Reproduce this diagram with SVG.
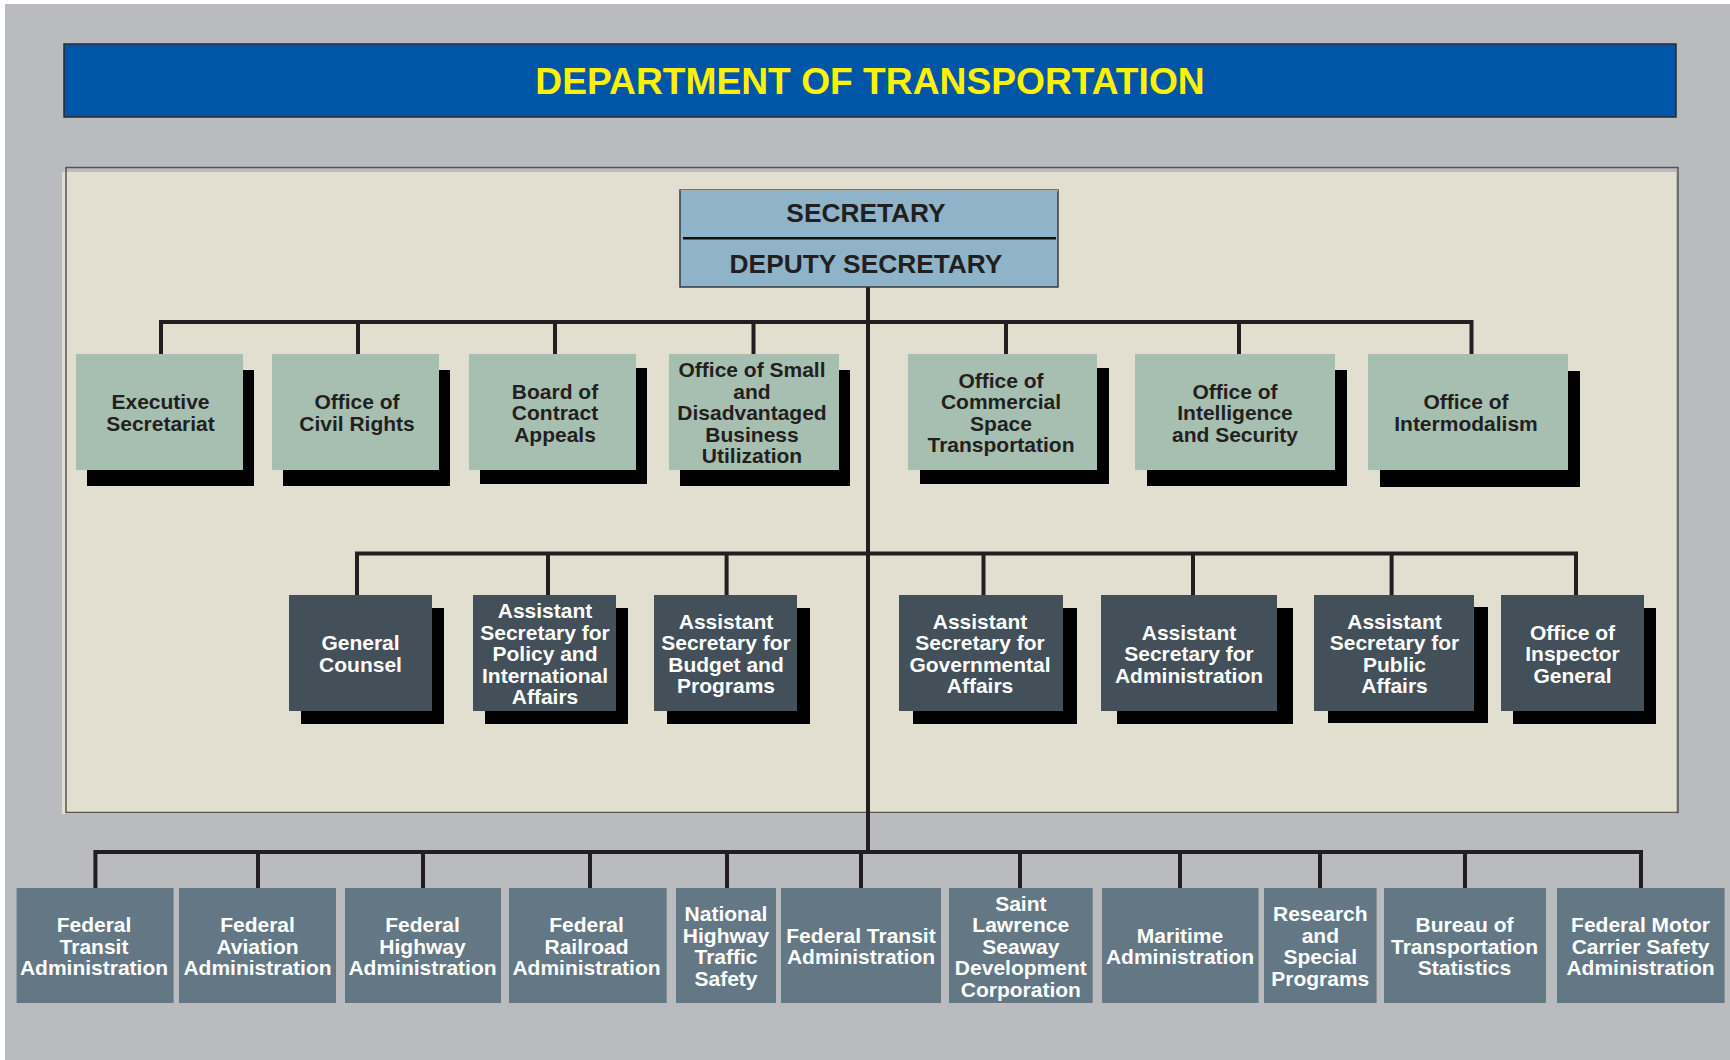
<svg xmlns="http://www.w3.org/2000/svg" width="1730" height="1060" viewBox="0 0 1730 1060">
<style>
text{font-family:"Liberation Sans",Arial,sans-serif;font-weight:bold;text-anchor:middle}
.t1{fill:#a7bfb1}
.t2{fill:#434f59}
.t3{fill:#637784}
.sh{fill:#000}
.dk{fill:#231f20;font-size:21px}
.wt{fill:#ffffff;font-size:21px}
.ln{stroke:#231f20;stroke-width:4;fill:none}
</style>
<rect x="0" y="0" width="1730" height="1060" fill="#ffffff"/>
<rect x="5" y="4" width="1725" height="1056" fill="#babbbf"/>
<g id="title">
<rect x="64" y="44" width="1612" height="73" fill="#0056a6" stroke="#2b2b2b" stroke-width="1.5"/>
<text x="870" y="93.5" style="font-size:37.2px;fill:#fff200">DEPARTMENT OF TRANSPORTATION</text>
</g>
<g id="panel">
<rect x="62" y="172" width="1614" height="642" fill="#e2dfd1"/>
<rect x="66" y="167.5" width="1612" height="645" fill="none" stroke="#555" stroke-width="1.5"/>
</g>
<g id="connectors">
<path class="ln" d="M868,287V852"/>
<path class="ln" d="M161,322H1473M161,320V354M358,320V354M555,320V354M753.5,320V354M1006,320V354M1239,320V354M1471.5,320V354"/>
<path class="ln" d="M355,553.5H1578M357,552V595M548,552V595M726.6,552V595M983.5,552V595M1193,552V595M1391.6,552V595M1576,552V595"/>
<path class="ln" d="M95,852H1643M95.4,850V888M258,850V888M423,850V888M590,850V888M727,850V888M861,850V888M1020,850V888M1180,850V888M1320,850V888M1465,850V888M1641,850V888"/>
</g>
<g id="secretary">
<rect x="680" y="190" width="378" height="97" fill="#8fb4c9" stroke="#3a3a3a" stroke-width="1.5"/>
<line x1="680.5" y1="190.5" x2="1058" y2="190.5" stroke="#aaaaaa" stroke-width="1.5"/>
<line x1="683" y1="238.3" x2="1056" y2="238.3" stroke="#111" stroke-width="2.5"/>
<text x="866" y="221.5" style="font-size:26.3px;fill:#231f20">SECRETARY</text>
<text x="866" y="273" style="font-size:26.3px;fill:#231f20">DEPUTY SECRETARY</text>
</g>
<g id="executive-secretariat">
<rect class="sh" x="87" y="370" width="167" height="116"/><rect class="t1" x="76" y="354" width="167" height="116"/>
<text class="dk" x="160.5" y="409.2">Executive<tspan x="160.5" dy="21.5">Secretariat</tspan></text>
</g>
<g id="civil-rights">
<rect class="sh" x="283" y="370" width="167" height="116"/><rect class="t1" x="272" y="354" width="167" height="116"/>
<text class="dk" x="357" y="409.2">Office of<tspan x="357" dy="21.5">Civil Rights</tspan></text>
</g>
<g id="contract-appeals">
<rect class="sh" x="480" y="368" width="167" height="116"/><rect class="t1" x="469" y="354" width="167" height="116"/>
<text class="dk" x="555" y="398.5">Board of<tspan x="555" dy="21.5">Contract</tspan><tspan x="555" dy="21.5">Appeals</tspan></text>
</g>
<g id="small-business">
<rect class="sh" x="680" y="370" width="170" height="116"/><rect class="t1" x="669" y="354" width="170" height="116"/>
<text class="dk" x="752" y="377">Office of Small<tspan x="752" dy="21.5">and</tspan><tspan x="752" dy="21.5">Disadvantaged</tspan><tspan x="752" dy="21.5">Business</tspan><tspan x="752" dy="21.5">Utilization</tspan></text>
</g>
<g id="commercial-space">
<rect class="sh" x="920" y="368" width="189" height="116"/><rect class="t1" x="908" y="354" width="189" height="116"/>
<text class="dk" x="1001" y="387.7">Office of<tspan x="1001" dy="21.5">Commercial</tspan><tspan x="1001" dy="21.5">Space</tspan><tspan x="1001" dy="21.5">Transportation</tspan></text>
</g>
<g id="intelligence-security">
<rect class="sh" x="1147" y="370" width="200" height="116"/><rect class="t1" x="1135" y="354" width="200" height="116"/>
<text class="dk" x="1235" y="398.5">Office of<tspan x="1235" dy="21.5">Intelligence</tspan><tspan x="1235" dy="21.5">and Security</tspan></text>
</g>
<g id="intermodalism">
<rect class="sh" x="1380" y="371" width="200" height="116"/><rect class="t1" x="1368" y="354" width="200" height="116"/>
<text class="dk" x="1466" y="409.2">Office of<tspan x="1466" dy="21.5">Intermodalism</tspan></text>
</g>
<g id="general-counsel">
<rect class="sh" x="301" y="608" width="143" height="116"/><rect class="t2" x="289" y="595" width="143" height="116"/>
<text class="wt" x="360.5" y="650.2">General<tspan x="360.5" dy="21.5">Counsel</tspan></text>
</g>
<g id="policy-international">
<rect class="sh" x="485" y="608" width="143" height="116"/><rect class="t2" x="473" y="595" width="143" height="116"/>
<text class="wt" x="545" y="618">Assistant<tspan x="545" dy="21.5">Secretary for</tspan><tspan x="545" dy="21.5">Policy and</tspan><tspan x="545" dy="21.5">International</tspan><tspan x="545" dy="21.5">Affairs</tspan></text>
</g>
<g id="budget-programs">
<rect class="sh" x="667" y="608" width="143" height="116"/><rect class="t2" x="654" y="595" width="143" height="116"/>
<text class="wt" x="726" y="628.7">Assistant<tspan x="726" dy="21.5">Secretary for</tspan><tspan x="726" dy="21.5">Budget and</tspan><tspan x="726" dy="21.5">Programs</tspan></text>
</g>
<g id="governmental-affairs">
<rect class="sh" x="913" y="608" width="164" height="116"/><rect class="t2" x="899" y="595" width="164" height="116"/>
<text class="wt" x="980" y="628.7">Assistant<tspan x="980" dy="21.5">Secretary for</tspan><tspan x="980" dy="21.5">Governmental</tspan><tspan x="980" dy="21.5">Affairs</tspan></text>
</g>
<g id="administration">
<rect class="sh" x="1117" y="608" width="176" height="116"/><rect class="t2" x="1101" y="595" width="176" height="116"/>
<text class="wt" x="1189" y="639.5">Assistant<tspan x="1189" dy="21.5">Secretary for</tspan><tspan x="1189" dy="21.5">Administration</tspan></text>
</g>
<g id="public-affairs">
<rect class="sh" x="1328" y="607" width="160" height="116"/><rect class="t2" x="1314" y="595" width="160" height="116"/>
<text class="wt" x="1394.5" y="628.7">Assistant<tspan x="1394.5" dy="21.5">Secretary for</tspan><tspan x="1394.5" dy="21.5">Public</tspan><tspan x="1394.5" dy="21.5">Affairs</tspan></text>
</g>
<g id="inspector-general">
<rect class="sh" x="1513" y="608" width="143" height="116"/><rect class="t2" x="1501" y="595" width="143" height="116"/>
<text class="wt" x="1572.5" y="639.5">Office of<tspan x="1572.5" dy="21.5">Inspector</tspan><tspan x="1572.5" dy="21.5">General</tspan></text>
</g>
<g id="fta-1">
<rect class="t3" x="16.6" y="888" width="157" height="115"/>
<text class="wt" x="94" y="932">Federal<tspan x="94" dy="21.5">Transit</tspan><tspan x="94" dy="21.5">Administration</tspan></text>
</g>
<g id="faa">
<rect class="t3" x="179" y="888" width="157" height="115"/>
<text class="wt" x="257.5" y="932">Federal<tspan x="257.5" dy="21.5">Aviation</tspan><tspan x="257.5" dy="21.5">Administration</tspan></text>
</g>
<g id="fhwa">
<rect class="t3" x="345" y="888" width="156" height="115"/>
<text class="wt" x="422.5" y="932">Federal<tspan x="422.5" dy="21.5">Highway</tspan><tspan x="422.5" dy="21.5">Administration</tspan></text>
</g>
<g id="fra">
<rect class="t3" x="509" y="888" width="157.6" height="115"/>
<text class="wt" x="586.5" y="932">Federal<tspan x="586.5" dy="21.5">Railroad</tspan><tspan x="586.5" dy="21.5">Administration</tspan></text>
</g>
<g id="nhtsa">
<rect class="t3" x="676" y="888" width="100" height="115"/>
<text class="wt" x="726" y="921.3">National<tspan x="726" dy="21.5">Highway</tspan><tspan x="726" dy="21.5">Traffic</tspan><tspan x="726" dy="21.5">Safety</tspan></text>
</g>
<g id="fta-2">
<rect class="t3" x="781" y="888" width="160" height="115"/>
<text class="wt" x="861" y="942.8">Federal Transit<tspan x="861" dy="21.5">Administration</tspan></text>
</g>
<g id="slsdc">
<rect class="t3" x="949" y="888" width="143.7" height="115"/>
<text class="wt" x="1020.8" y="910.5">Saint<tspan x="1020.8" dy="21.5">Lawrence</tspan><tspan x="1020.8" dy="21.5">Seaway</tspan><tspan x="1020.8" dy="21.5">Development</tspan><tspan x="1020.8" dy="21.5">Corporation</tspan></text>
</g>
<g id="marad">
<rect class="t3" x="1102" y="888" width="156.5" height="115"/>
<text class="wt" x="1180" y="942.8">Maritime<tspan x="1180" dy="21.5">Administration</tspan></text>
</g>
<g id="rspa">
<rect class="t3" x="1264" y="888" width="112.6" height="115"/>
<text class="wt" x="1320.3" y="921.3">Research<tspan x="1320.3" dy="21.5">and</tspan><tspan x="1320.3" dy="21.5">Special</tspan><tspan x="1320.3" dy="21.5">Programs</tspan></text>
</g>
<g id="bts">
<rect class="t3" x="1384" y="888" width="162" height="115"/>
<text class="wt" x="1464.5" y="932">Bureau of<tspan x="1464.5" dy="21.5">Transportation</tspan><tspan x="1464.5" dy="21.5">Statistics</tspan></text>
</g>
<g id="fmcsa">
<rect class="t3" x="1557" y="888" width="167.6" height="115"/>
<text class="wt" x="1640.5" y="932">Federal Motor<tspan x="1640.5" dy="21.5">Carrier Safety</tspan><tspan x="1640.5" dy="21.5">Administration</tspan></text>
</g>
</svg>
